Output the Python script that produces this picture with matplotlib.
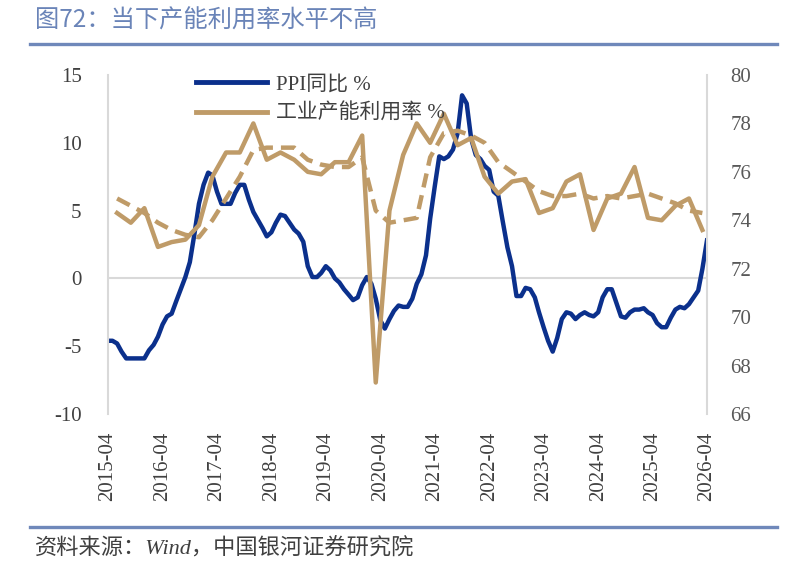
import numpy as np
import pandas as pd
import matplotlib
matplotlib.use("Agg")
import matplotlib.pyplot as plt
from matplotlib.lines import Line2D

plt.rcParams['axes.unicode_minus'] = False
plt.rcParams['font.family'] = ['Liberation Serif', 'Noto Sans CJK SC']

# -----------------------------
# data
# -----------------------------

# PPI year-on-year, monthly from 2015-04 to 2026-04 (%)
ppi = [
    -4.6, -4.6, -4.8, -5.4, -5.9, -5.9, -5.9, -5.9, -5.9,
    -5.3, -4.9, -4.3, -3.4, -2.8, -2.6, -1.7, -0.8, 0.1, 1.2, 3.3, 5.5,
    6.9, 7.8, 7.6, 6.4, 5.5, 5.5, 5.5, 6.3, 6.9, 6.9, 5.8, 4.9,
    4.3, 3.7, 3.1, 3.4, 4.1, 4.7, 4.6, 4.1, 3.6, 3.3, 2.7, 0.9,
    0.1, 0.1, 0.4, 0.9, 0.6, 0.0, -0.3, -0.8, -1.2, -1.6, -1.4, -0.5,
    0.1, -0.4, -1.5, -3.1, -3.7, -3.0, -2.4, -2.0, -2.1, -2.1, -1.5, -0.4,
    0.3, 1.7, 4.4, 6.8, 9.0, 8.8, 9.0, 9.5, 10.7, 13.5, 12.9, 10.3,
    9.1, 8.8, 8.3, 8.0, 6.4, 6.1, 4.2, 2.3, 0.9, -1.3, -1.3, -0.7,
    -0.8, -1.4, -2.5, -3.6, -4.6, -5.4, -4.4, -3.0, -2.5, -2.6, -3.0, -2.7,
    -2.5, -2.7, -2.8, -2.5, -1.4, -0.8, -0.8, -1.8, -2.8, -2.9, -2.5, -2.3,
    -2.3, -2.2, -2.5, -2.7, -3.3, -3.6, -3.6, -2.9, -2.3, -2.1, -2.2, -1.9,
    -1.4, -0.9, 0.7, 2.8,
]
months = pd.date_range("2015-04-01", periods=len(ppi), freq="MS")

# industrial capacity utilisation, quarterly from 2015Q2 to 2026Q1 (%)
capacity = [
    74.3, 73.9, 74.5,
    72.9, 73.1, 73.2, 73.8,
    75.8, 76.8, 76.8, 78.0,
    76.5, 76.8, 76.5, 76.0,
    75.9, 76.4, 76.4, 77.5,
    67.3, 74.4, 76.7, 78.0,
    77.2, 78.4, 77.1, 77.4,
    75.8, 75.1, 75.6, 75.7,
    74.3, 74.5, 75.6, 75.9,
    73.6, 74.9, 75.1, 76.2,
    74.1, 74.0, 74.6, 74.9,
    73.6,
]
# dashed trend line of capacity utilisation
capacity_trend = [
    74.9, 74.6, 74.3,
    73.9, 73.6, 73.4, 73.3,
    74.0, 74.9, 75.8, 76.9,
    77.0, 77.0, 77.0, 76.5,
    76.3, 76.2, 76.2, 76.6,
    74.4, 73.9, 74.0, 74.1,
    76.6, 77.6, 77.7, 77.5,
    77.2, 76.4, 76.0, 75.6,
    75.2, 75.0, 75.0, 75.1,
    74.9, 75.0, 74.9, 75.0,
    75.1, 74.9, 74.7, 74.4,
    74.3,
]
quarters = pd.date_range("2015-06-01", periods=len(capacity), freq="3MS")

tick_dates = pd.date_range("2015-04-01", "2026-04-01", freq="12MS")
tick_labels = [d.strftime("%Y-%m") for d in tick_dates]

blue = "#0b308c"
gold = "#bf9b68"
grey_line = "#d9d9d9"
text_col = "#404040"
band = "#6f88ba"

# -----------------------------
# figure
# -----------------------------

fig = plt.figure(figsize=(7.87, 5.73), dpi=100)
ax = fig.add_axes([108 / 787, 1 - 414 / 573, 599 / 787, 339 / 573])
ax2 = ax.twinx()

ax.plot(months, ppi, color=blue, lw=3.2, solid_joinstyle="round", label="PPI同比 %")
ax2.plot(quarters, capacity, color=gold, lw=3.2, solid_joinstyle="round", label="工业产能利用率 %")
ax2.plot(quarters, capacity_trend, color=gold, lw=3.2, linestyle=(0, (3.2, 1.8)),
         dash_capstyle="butt")

ax.set_xlim(months[0], months[-1])
ax.set_ylim(-10, 15)
ax.set_yticks(np.arange(-10, 16, 5))
ax2.set_ylim(66, 80)
ax2.set_yticks(np.arange(66, 81, 2))

ax.axhline(0, color=grey_line, lw=1.5, zorder=0)

ax.set_xticks(tick_dates)
ax.set_xticklabels(tick_labels, rotation=90)

for a in (ax, ax2):
    for s in ("top", "bottom"):
        a.spines[s].set_visible(False)
ax.spines["left"].set_color(grey_line)
ax.spines["left"].set_linewidth(1.5)
ax.spines["right"].set_visible(False)
ax2.spines["left"].set_visible(False)
ax2.spines["right"].set_color(grey_line)
ax2.spines["right"].set_linewidth(1.5)

ax.tick_params(axis="x", length=0, pad=13, labelsize=15, labelcolor=text_col)
ax.tick_params(axis="y", length=0, pad=19, labelsize=15, labelcolor=text_col)
ax2.tick_params(axis="y", length=0, pad=17, labelsize=15, labelcolor="#595959")

handles = [Line2D([], [], color=blue, lw=3.5), Line2D([], [], color=gold, lw=3.5)]
fig.legend(handles, ["PPI同比 %", "工业产能利用率 %"], loc="upper left",
           bbox_to_anchor=(196 / 787, 1 - 75 / 573), frameon=False, fontsize=15,
           handlelength=3.4, handletextpad=0.45, labelspacing=0.45, borderpad=0,
           borderaxespad=0, labelcolor=text_col)

# header / footer
fig.text(35 / 787, 1 - 21 / 573, "图72：当下产能利用率水平不高", fontsize=17.5,
         color="#6a84b8", va="center", ha="left", family=["Noto Sans CJK SC"])
fig.add_artist(Line2D([30 / 787, 777 / 787], [1 - 44 / 573] * 2, color=band, lw=2.4))
fig.add_artist(Line2D([30 / 787, 777 / 787], [1 - 527 / 573] * 2, color=band, lw=2.4))
fig.text(35 / 787, 1 - 549 / 573, "资料来源：Wind，中国银河证券研究院", fontsize=16,
         color=text_col, va="center", ha="left", style="italic")

fig.savefig("out.png", dpi=100)
